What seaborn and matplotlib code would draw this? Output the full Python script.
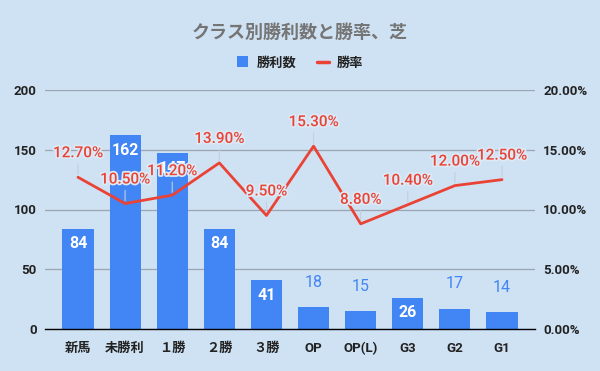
import numpy as np
import pandas as pd
import matplotlib
matplotlib.use("Agg")
import matplotlib.pyplot as plt
import matplotlib.patheffects as pe
import seaborn as sns
from matplotlib.lines import Line2D
from matplotlib.patches import Patch
from matplotlib.ticker import FuncFormatter, MultipleLocator

categories = ["新馬", "未勝利", "１勝", "２勝", "３勝", "OP", "OP(L)", "G3", "G2", "G1"]
wins = [84, 162, 147, 84, 41, 18, 15, 26, 17, 14]
win_rate = [12.70, 10.50, 11.20, 13.90, 9.50, 15.30, 8.80, 10.40, 12.00, 12.50]

BG = "#cfe2f3"
BLUE = "#4285f4"
RED = "#ea4335"
FONT = ["Roboto", "Noto Sans CJK JP", "DejaVu Sans"]

sns.set_theme(style="white")
plt.rcParams["font.family"] = FONT

df = pd.DataFrame({"cat": categories, "wins": wins, "rate": win_rate})
df["pos"] = np.arange(len(df))

fig = plt.figure(figsize=(6.0, 3.71), dpi=100, facecolor=BG)
ax = fig.add_axes([45/600, 1-329/371, 490/600, 239/371])
ax.set_facecolor(BG)

sns.barplot(data=df, x="cat", y="wins", color=BLUE, width=0.66, saturation=1,
            linewidth=0, edgecolor="none", ax=ax, zorder=2)
ax.set_xlim(-0.7, len(df) - 0.3)
ax.set_ylim(0, 200)
ax.yaxis.set_major_locator(MultipleLocator(50))
ax.grid(axis="y", color="#9aa5b1", linewidth=0.9, zorder=0)
ax.set_axisbelow(True)
for s in ["top", "right", "left"]:
    ax.spines[s].set_visible(False)
ax.spines["bottom"].set_color("black")
ax.spines["bottom"].set_linewidth(1.0)
ax.set_xlabel("")
ax.set_ylabel("")
ax.tick_params(axis="both", length=0, labelsize=9.5, colors="#222222", pad=6)
for lab in ax.get_xticklabels() + ax.get_yticklabels():
    lab.set_fontweight("bold")
ax.tick_params(axis="x", pad=9)

# bar labels
for p, v in zip(ax.patches, df["wins"]):
    cx = p.get_x() + p.get_width() / 2
    if v >= 20:
        ax.annotate(str(v), (cx, v), xytext=(0, -15), textcoords="offset pixels",
                    ha="center", va="center", color="white", fontsize=11.5,
                    fontweight="bold", zorder=5)
    else:
        ax.annotate(str(v), (cx, v), xytext=(0, 25), textcoords="offset pixels",
                    ha="center", va="center", color=BLUE, fontsize=11.5, zorder=5)

ax2 = ax.twinx()
ax2.set_facecolor("none")
sns.lineplot(data=df, x="pos", y="rate", color=RED, linewidth=2, ax=ax2, zorder=4)
ax2.set_ylim(0, 20)
ax2.set_xlim(-0.7, len(df) - 0.3)
ax2.yaxis.set_major_locator(MultipleLocator(5))
ax2.yaxis.set_major_formatter(FuncFormatter(lambda v, _: f"{v:.2f}%"))
for s in ["top", "right", "left", "bottom"]:
    ax2.spines[s].set_visible(False)
ax2.set_xlabel("")
ax2.set_ylabel("")
ax2.tick_params(axis="y", length=0, labelsize=9.5, colors="#222222", pad=6)
for lab in ax2.get_yticklabels():
    lab.set_fontweight("bold")

for x, r in zip(df["pos"], df["rate"]):
    ax2.annotate("", xy=(x, r), xytext=(0, 16), textcoords="offset pixels",
                 arrowprops=dict(arrowstyle="-", color="#c3cfdb", lw=0.8))
    ax2.annotate(f"{r:.2f}%", (x, r), xytext=(0, 24), textcoords="offset pixels",
                 ha="center", va="center", color=RED, fontsize=11, fontweight="medium",
                 zorder=6, path_effects=[pe.withStroke(linewidth=2.5, foreground="#dde9f5")])

fig.text(0.5, 1-33/371, "クラス別勝利数と勝率、芝", ha="center", va="center",
         fontsize=13, fontweight="bold", color="#757575")

handles = [Patch(facecolor=BLUE, edgecolor="none"),
           Line2D([0], [0], color=RED, linewidth=2.5)]
leg = fig.legend(handles, ["勝利数", "勝率"], loc="center", bbox_to_anchor=(0.5, 1-63/371),
                 ncol=2, frameon=False, fontsize=9.5, handlelength=0.9, handleheight=0.9,
                 columnspacing=1.6, handletextpad=0.6)
for t in leg.get_texts():
    t.set_fontweight("bold")
    t.set_color("#222222")

fig.savefig("out.png", dpi=100, facecolor=BG)
